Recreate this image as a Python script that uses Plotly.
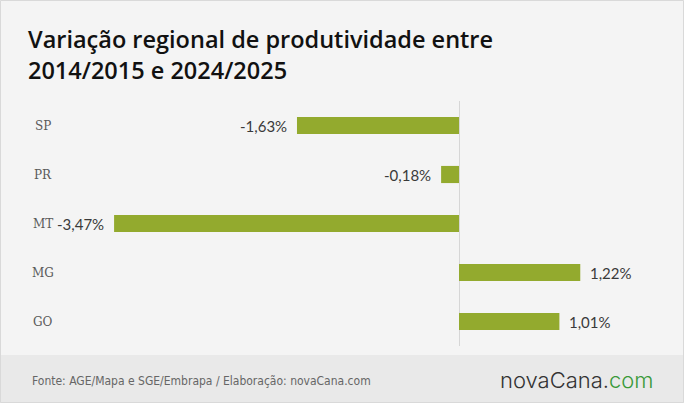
import plotly.graph_objects as go

regions = ["SP", "PR", "MT", "MG", "GO"]
values = [-1.63, -0.18, -3.47, 1.22, 1.01]
labels = ["-1,63%", "-0,18%", "-3,47%", "1,22%", "1,01%"]
title_text = "Variação regional de produtividade entre<br>2014/2015 e 2024/2025"

W, H = 684, 403
L, R, T, B = 28, 24, 101, 57
PW, PH = W - L - R, H - T - B


def px_x(x):
    return (x - L) / PW


def px_y(y):
    return (H - B - y) / PH


fig = go.Figure()
fig.add_trace(go.Bar(
    y=regions, x=values, orientation="h",
    marker=dict(color="#93aa2e", line=dict(width=0)),
    width=0.35, hoverinfo="skip",
))

# value labels
for r, v, t in zip(regions, values, labels):
    fig.add_annotation(x=v, y=r, xref="x", yref="y", text=t, showarrow=False,
                       xanchor="right" if v < 0 else "left", yanchor="middle",
                       xshift=-8 if v < 0 else 8,
                       font=dict(family="Lato", size=15, color="#3a3a3a"))

# category labels
for r in regions:
    fig.add_annotation(x=px_x(43), xref="paper", y=r, yref="y",
                       text=r, showarrow=False, xanchor="center", yanchor="middle",
                       font=dict(family="DejaVu Serif", size=12, color="#5a5a5a"))

# footer band
fig.add_shape(type="rect", xref="paper", yref="paper",
              x0=px_x(0), x1=px_x(W), y0=px_y(H), y1=px_y(355),
              fillcolor="#e9e9e9", line=dict(width=0), layer="below")
# border
fig.add_shape(type="rect", xref="paper", yref="paper",
              x0=px_x(0.5), x1=px_x(W - 0.5), y0=px_y(H - 0.5), y1=px_y(0.5),
              fillcolor="rgba(0,0,0,0)", line=dict(width=1, color="#d9d9d9"))

# title
fig.add_annotation(x=px_x(26), xref="paper", y=px_y(55), yref="paper",
                   text=title_text, showarrow=False, xanchor="left", yanchor="middle",
                   align="left",
                   font=dict(family="Open Sans", size=23.5, color="#111111", weight=600))

# footer texts
fig.add_annotation(x=px_x(30), xref="paper", y=px_y(381), yref="paper",
                   text="Fonte: AGE/Mapa e SGE/Embrapa / Elaboração: novaCana.com",
                   showarrow=False, xanchor="left", yanchor="middle",
                   font=dict(family="Liberation Sans Narrow, DejaVu Sans Condensed, Roboto",
                             size=12, color="#666666"))
fig.add_annotation(x=px_x(656), xref="paper", y=px_y(380), yref="paper",
                   text="<span style='color:#333333'>novaCana.</span><span style='color:#3a9a3a'>com</span>",
                   showarrow=False, xanchor="right", yanchor="middle",
                   font=dict(family="Inter", size=22, color="#333333", weight=300))

fig.update_layout(
    width=W, height=H, autosize=False,
    margin=dict(l=L, r=R, t=T, b=B),
    paper_bgcolor="#f4f4f4", plot_bgcolor="#f4f4f4",
    showlegend=False,
    xaxis=dict(range=[(L - 459) / 99.4, (W - R - 459) / 99.4], showgrid=False,
               showticklabels=False, zeroline=True, zerolinecolor="#d6d6d6",
               zerolinewidth=1, fixedrange=True),
    yaxis=dict(autorange="reversed", showticklabels=False, showgrid=False,
               zeroline=False, fixedrange=True),
)

fig.write_html("out.html")
